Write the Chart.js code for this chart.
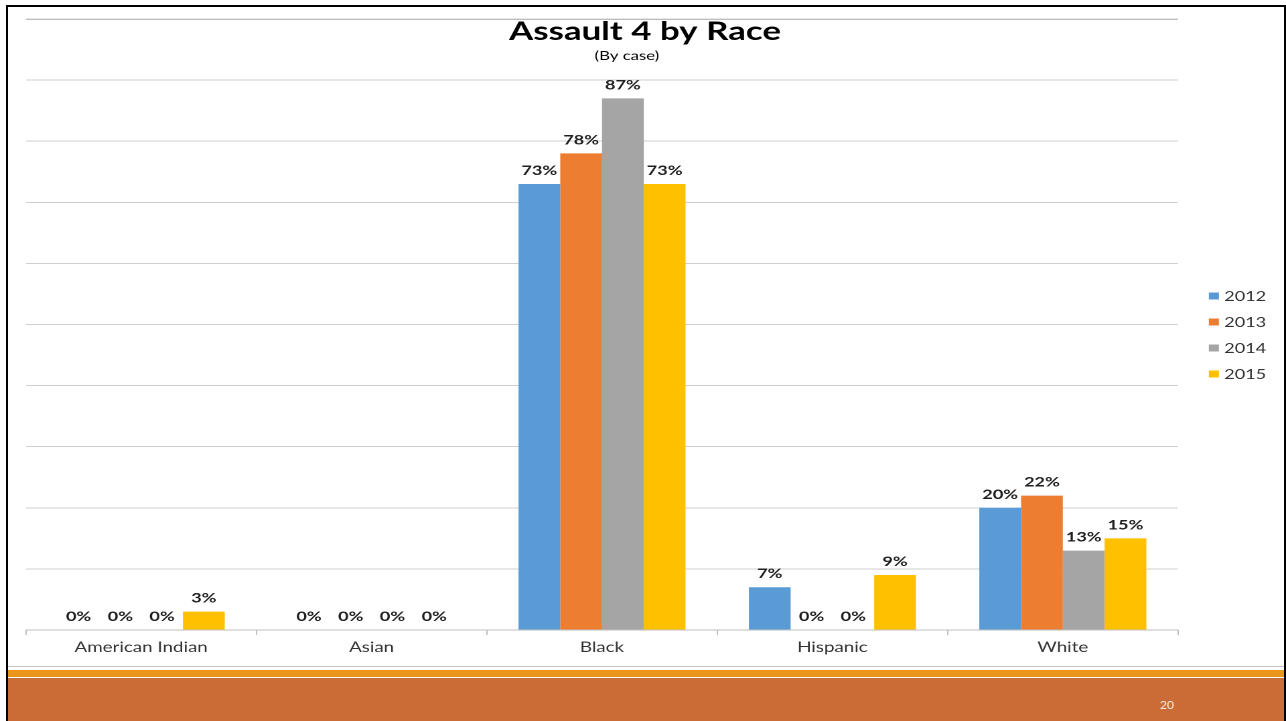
<!DOCTYPE html>
<html>
<head>
<meta charset="utf-8">
<title>Assault 4 by Race</title>
<script src="https://cdn.jsdelivr.net/npm/chart.js@4/dist/chart.umd.min.js"></script>
<style>
  html, body { margin: 0; padding: 0; background: #fff; width: 1286px; height: 721px; overflow: hidden; }
  /* the slide is laid out at 960px wide and widened to the window */
  #stage { position: absolute; left: 0; top: 0; width: 960px; height: 665px;
           transform: scaleX(1.339583); transform-origin: 0 0; }
  #frame { position: absolute; left: 6px; top: 5px; width: 1280px; height: 740px;
           border: 2px solid #000; box-sizing: border-box; pointer-events: none; }
  #rule   { position: absolute; left: 8px; width: 1276px; top: 666px; height: 1px; background: #BFBFBF; }
  #stripe { position: absolute; left: 8px; width: 1276px; top: 670px; height: 7px; background: #E9961A; }
  #band   { position: absolute; left: 8px; width: 1276px; top: 678px; height: 43px; background: #CB6C37; }
  #page   { position: absolute; left: 1160px; top: 697px; font: 12px Lato, sans-serif; color: #F6E6DA; }
</style>
</head>
<body>
<div id="stage"><canvas id="chart" width="960" height="665"></canvas></div>
<div id="rule"></div>
<div id="stripe"></div>
<div id="band"></div>
<div id="page">20</div>
<div id="frame"></div>
<script>
// Share of Assault 4 cases by race, per year (percent)
const categories = ['American Indian', 'Asian', 'Black', 'Hispanic', 'White'];
const years = ['2012', '2013', '2014', '2015'];
const share2012 = [0, 0, 73, 7, 20];
const share2013 = [0, 0, 78, 0, 22];
const share2014 = [0, 0, 87, 0, 13];
const share2015 = [3, 0, 73, 9, 15];
const yearColors = ['#5B9BD5', '#ED7D31', '#A5A5A5', '#FFC000'];
const axisMax = 100;
const axisStep = 10;

const titleText = 'Assault 4 by Race';
const subtitleText = '(By case)';

const series = [share2012, share2013, share2014, share2015];
const gridColor = '#CFCFCF';

// top edge of the plot area (the 100% line)
const plotTop = {
  id: 'plotTop',
  beforeDatasetsDraw(chart) {
    const ctx = chart.ctx;
    const a = chart.chartArea;
    const y = chart.scales.y.getPixelForValue(axisMax);
    ctx.save();
    ctx.strokeStyle = '#BDBDBD';
    ctx.lineWidth = 1;
    ctx.beginPath();
    ctx.moveTo(a.left, Math.round(y) + 0.5);
    ctx.lineTo(a.right, Math.round(y) + 0.5);
    ctx.stroke();
    ctx.restore();
  }
};

// percentage printed above every bar
const valueLabels = {
  id: 'valueLabels',
  afterDatasetsDraw(chart) {
    const ctx = chart.ctx;
    ctx.save();
    ctx.font = 'bold 13.5px Lato';
    ctx.fillStyle = '#1F1F1F';
    ctx.textAlign = 'center';
    ctx.textBaseline = 'alphabetic';
    chart.data.datasets.forEach((ds, i) => {
      chart.getDatasetMeta(i).data.forEach((bar, j) => {
        ctx.fillText(ds.data[j] + '%', bar.x, bar.y - 9);
      });
    });
    ctx.restore();
  }
};

// heading drawn over the top of the plot
const heading = {
  id: 'heading',
  afterDraw(chart) {
    const ctx = chart.ctx;
    ctx.save();
    ctx.fillStyle = '#000';
    ctx.textAlign = 'center';
    ctx.textBaseline = 'alphabetic';
    ctx.font = 'bold 26px Lato';
    ctx.fillText(titleText, chart.width / 2 + 1.5, 40);
    ctx.font = '12.5px Lato';
    ctx.fillText(subtitleText, chart.width / 2 - 12, 60);
    ctx.restore();
  }
};

// year key to the right of the plot
const yearKey = {
  id: 'yearKey',
  afterDraw(chart) {
    const ctx = chart.ctx;
    const area = chart.chartArea;
    ctx.save();
    ctx.font = '13.5px Lato';
    ctx.textBaseline = 'middle';
    ctx.textAlign = 'left';
    chart.data.datasets.forEach((ds, i) => {
      const cy = area.top + 277 + i * 26;
      ctx.fillStyle = ds.backgroundColor;
      ctx.fillRect(area.right + 23, cy - 3.5, 7.5, 7);
      ctx.fillStyle = '#333333';
      ctx.fillText(ds.label, area.right + 34.5, cy + 0.5);
    });
    ctx.restore();
  }
};

new Chart(document.getElementById('chart'), {
  type: 'bar',
  data: {
    labels: categories,
    datasets: years.map((y, i) => ({
      label: y,
      data: series[i],
      backgroundColor: yearColors[i],
      borderWidth: 0,
      categoryPercentage: 0.725,
      barPercentage: 1.0
    }))
  },
  options: {
    responsive: false,
    devicePixelRatio: 2,
    animation: false,
    layout: { padding: { left: 19.4, right: 80.6, top: 19, bottom: 0 } },
    plugins: {
      legend: { display: false },
      title: { display: false },
      tooltip: { enabled: false }
    },
    scales: {
      x: {
        grid: { drawOnChartArea: false, offset: true, tickLength: 5, color: '#BFBFBF' },
        border: { color: '#BFBFBF' },
        ticks: { font: { family: 'Lato', size: 14 }, color: '#333333', padding: 4,
                 maxRotation: 0, autoSkip: false },
        afterFit(scale) { scale.height = 35; }
      },
      y: {
        min: 0,
        max: axisMax,
        ticks: { stepSize: axisStep, display: false },
        grid: { color: gridColor, drawTicks: false },
        border: { display: false },
        afterFit(scale) { scale.width = 0; }
      }
    }
  },
  plugins: [plotTop, valueLabels, heading, yearKey]
});
</script>
</body>
</html>
